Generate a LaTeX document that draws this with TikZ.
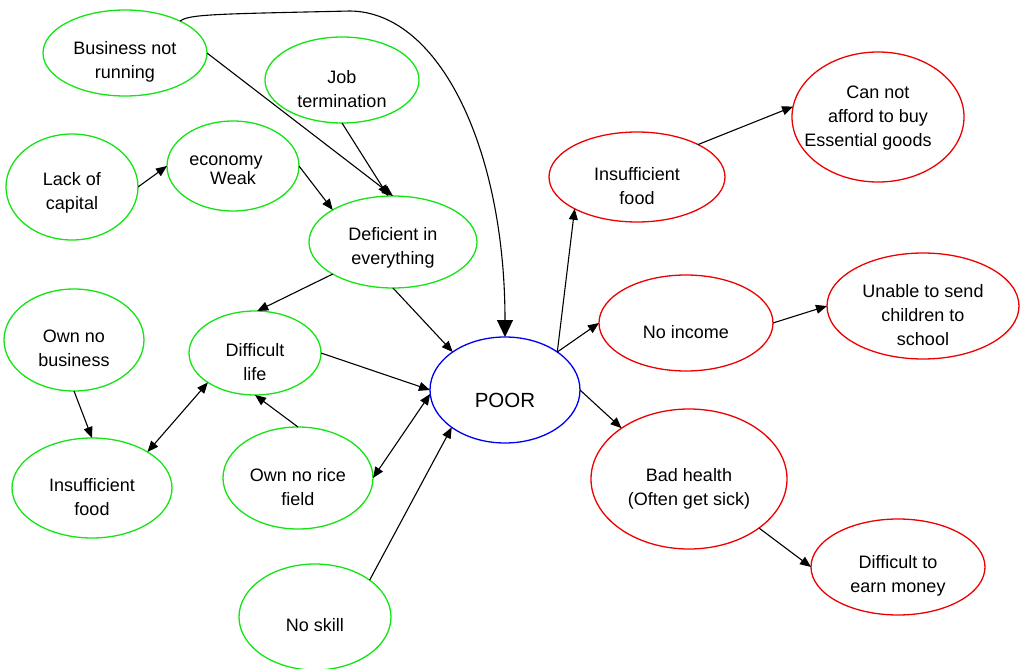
\documentclass[tikz,border=0pt]{standalone}
\usepackage{fontspec}
\setmainfont{Liberation Sans}
\usetikzlibrary{shapes.geometric,arrows.meta}
\definecolor{causegreen}{RGB}{20,228,20}
\definecolor{effectred}{RGB}{238,0,0}
\definecolor{coreblue}{RGB}{0,0,240}
\tikzset{
  bubble/.style={ellipse, draw, line width=1.3pt, inner sep=0pt, outer sep=0pt},
  cause/.style={bubble, draw=causegreen},
  effect/.style={bubble, draw=effectred},
  core/.style={bubble, draw=coreblue},
  txt/.style={font=\fontsize{18}{24}\selectfont, align=center, inner sep=0pt, yshift=-9pt},
  link/.style={line width=1.1pt, -{Triangle[length=11pt,width=9pt]}},
  twoway/.style={line width=1.1pt, {Triangle[length=11pt,width=9pt]}-{Triangle[length=11pt,width=9pt]}},
  biglink/.style={line width=1.1pt, -{Triangle[length=17pt,width=16pt]}},
}
\begin{document}
\begin{tikzpicture}[x=1pt,y=-1pt]
\useasboundingbox (0,0) rectangle (1021,669);

% causes (green)
\node[cause, minimum width=164pt, minimum height=86pt,
      label={[txt]center:{Business not\\running}}] (bnr) at (125,53) {};
\node[cause, minimum width=154pt, minimum height=86pt,
      label={[txt]center:{Job\\termination}}] (job) at (342,80) {};
\node[cause, minimum width=132pt, minimum height=106pt,
      label={[txt,yshift=3pt]center:{Lack of\\capital}}] (lack) at (72,187) {};
\node[cause, minimum width=132pt, minimum height=90pt,
      label={[txt,yshift=5pt]center:{economy\rule{14pt}{0pt}\\[-5pt]Weak}}] (eco) at (233,166) {};
\node[cause, minimum width=168pt, minimum height=92pt,
      label={[txt,yshift=3pt]center:{Deficient in\\everything}}] (def) at (393,242) {};
\node[cause, minimum width=140pt, minimum height=102pt,
      label={[txt,yshift=1pt]center:{Own no\\business}}] (onb) at (74,340) {};
\node[cause, minimum width=132pt, minimum height=84pt,
      label={[txt]center:{Difficult\\life}}] (dl) at (255,353) {};
\node[cause, minimum width=160pt, minimum height=100pt,
      label={[txt]center:{Insufficient\\food}}] (ifl) at (92,488) {};
\node[cause, minimum width=150pt, minimum height=102pt,
      label={[txt]center:{Own no rice\\field}}] (rice) at (298,478) {};
\node[cause, minimum width=152pt, minimum height=106pt,
      label={[txt,yshift=1pt]center:{No skill}}] (skill) at (315,617) {};

% the central state
\node[core, minimum width=150pt, minimum height=106pt,
      label={[txt,font=\fontsize{20.5}{24}\selectfont,yshift=-1pt]center:{POOR}}] (poor) at (505,390) {};

% effects (red)
\node[effect, minimum width=176pt, minimum height=90pt,
      label={[txt]center:{Insufficient\\food}}] (ifr) at (637,177) {};
\node[effect, minimum width=172pt, minimum height=130pt,
      label={[txt,yshift=8pt]center:{Can not\\afford to buy\\Essential goods\rule{20pt}{0pt}}}] (cna) at (878,117) {};
\node[effect, minimum width=174pt, minimum height=96pt,
      label={[txt]center:{No income}}] (noi) at (686,323) {};
\node[effect, minimum width=192pt, minimum height=106pt,
      label={[txt]center:{Unable to send\\children to\\school}}] (unable) at (923,306) {};
\node[effect, minimum width=196pt, minimum height=140pt,
      label={[txt,yshift=-1pt]center:{Bad health\\(Often get sick)}}] (bad) at (689,479) {};
\node[effect, minimum width=174pt, minimum height=96pt,
      label={[txt]center:{Difficult to\\earn money}}] (dte) at (898,567) {};

% cause links
\draw[link] (bnr.0) -- (def.90);
\draw[link] (job.270) -- (def.96);
\draw[link] (lack.0) -- (eco.180);
\draw[link] (eco.0) -- (def.152);
\draw[link] (def.208) -- (dl.87);
\draw[link] (def.270) -- (poor.144);
\draw[link] (dl.0) -- (poor.180);
\draw[link] (onb.270) -- (ifl.90);
\draw[twoway] (ifl.33) -- (dl.212.6);
\draw[link] (rice.90) -- (dl.270);
\draw[twoway] (rice.0) -- (poor.183);
\draw[link] (skill.34.4) -- (poor.215.6);
\draw[biglink] (bnr.30) .. controls (188,14) and (220,14) .. (350,11)
               .. controls (440,12) and (505,150) .. (poor.90);

% effect links
\draw[link] (poor.36.2) -- (ifr.207.3);
\draw[link] (poor.36.2) -- (noi.180);
\draw[link] (poor.0) -- (bad.143.5);
\draw[link] (bad.325.2) -- (dte.180);
\draw[link] (ifr.28) -- (cna.173.4);
\draw[link] (noi.0) -- (unable.180);
\end{tikzpicture}
\end{document}
